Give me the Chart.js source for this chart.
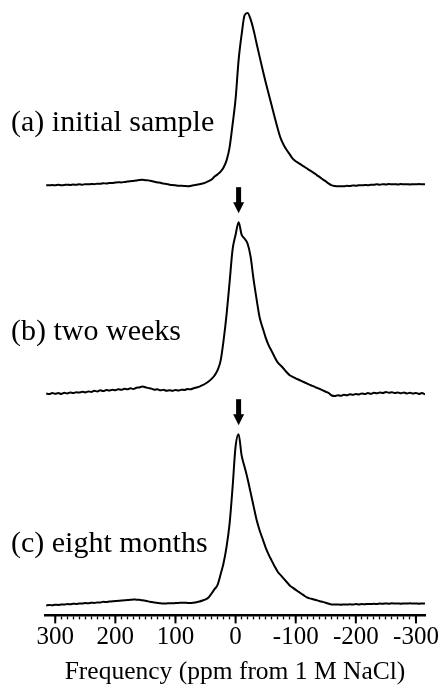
<!DOCTYPE html>
<html>
<head>
<meta charset="utf-8">
<script src="https://cdn.jsdelivr.net/npm/chart.js@4.4.1/dist/chart.umd.min.js"></script>
<style>
  html, body { margin: 0; padding: 0; background: #fff; }
  #wrap { position: relative; width: 438px; height: 690px; }
</style>
</head>
<body>
<div id="wrap"><canvas id="nmr"></canvas></div>
<script>
// chemical shift grid (ppm)
const ppm = [
  315, 310, 305, 300, 295, 290, 285, 280, 275, 270,
  265, 260, 255, 250, 245, 240, 235, 230, 225, 220,
  215, 210, 205, 200, 195, 190, 185, 180, 175, 170,
  165, 160, 155, 150, 145, 140, 135, 130, 125, 120,
  115, 110, 105, 100, 95, 90, 85, 80, 75, 70,
  65, 60, 55, 50, 45, 40, 35, 30, 25, 20,
  15, 10, 5, 0, -5, -10, -15, -20, -25, -30,
  -35, -40, -45, -50, -55, -60, -65, -70, -75, -80,
  -85, -90, -95, -100, -105, -110, -115, -120, -125, -130,
  -135, -140, -145, -150, -155, -160, -165, -170, -175, -180,
  -185, -190, -195, -200, -205, -210, -215, -220, -225, -230,
  -235, -240, -245, -250, -255, -260, -265, -270, -275, -280,
  -285, -290, -295, -300, -305, -310, -315
];

// normalised intensities (peak = 1)
const initialSample = [
  -0.006, -0.006, -0.004, -0.006, -0.003, -0.005, -0.004, -0.002, -0.004, -0.001,
  -0.003, 0.000, -0.002, 0.001, 0.000, 0.002, 0.001, 0.004, 0.003, 0.006,
  0.005, 0.008, 0.007, 0.010, 0.012, 0.011, 0.014, 0.016, 0.018, 0.020,
  0.022, 0.025, 0.026, 0.024, 0.023, 0.019, 0.015, 0.011, 0.009, 0.004,
  0.002, -0.002, -0.004, -0.006, -0.008, -0.009, -0.010, -0.011, -0.010, -0.006,
  -0.002, 0.000, 0.005, 0.010, 0.018, 0.028, 0.045, 0.058, 0.074, 0.098,
  0.140, 0.216, 0.350, 0.500, 0.725, 0.874, 0.988, 1.000, 0.963, 0.900,
  0.821, 0.744, 0.669, 0.596, 0.528, 0.460, 0.392, 0.326, 0.268, 0.230,
  0.200, 0.175, 0.150, 0.135, 0.124, 0.112, 0.101, 0.089, 0.078, 0.067,
  0.054, 0.042, 0.029, 0.017, 0.004, -0.006, -0.010, -0.012, -0.011, -0.012,
  -0.009, -0.010, -0.007, -0.008, -0.005, -0.006, -0.004, -0.005, -0.002, -0.003,
  0.000, -0.002, 0.001, -0.001, 0.002, 0.000, 0.001, -0.001, 0.002, 0.000,
  0.001, -0.001, 0.001, 0.000, 0.002, 0.000, 0.001
];

const twoWeeks = [
  0.000, -0.004, 0.003, -0.002, 0.002, -0.003, 0.004, 0.000, 0.006, 0.002,
  0.007, 0.005, 0.010, 0.006, 0.012, 0.009, 0.015, 0.012, 0.018, 0.014,
  0.020, 0.017, 0.022, 0.019, 0.025, 0.021, 0.027, 0.024, 0.030, 0.026,
  0.033, 0.035, 0.040, 0.036, 0.031, 0.028, 0.022, 0.024, 0.018, 0.021,
  0.016, 0.019, 0.015, 0.020, 0.017, 0.022, 0.020, 0.026, 0.024, 0.030,
  0.035, 0.040, 0.048, 0.058, 0.070, 0.085, 0.105, 0.136, 0.190, 0.310,
  0.462, 0.649, 0.841, 0.927, 1.000, 0.927, 0.903, 0.874, 0.797, 0.663,
  0.548, 0.443, 0.383, 0.326, 0.281, 0.247, 0.212, 0.181, 0.163, 0.144,
  0.124, 0.106, 0.097, 0.088, 0.080, 0.072, 0.064, 0.056, 0.048, 0.041,
  0.033, 0.026, 0.018, 0.010, 0.002, -0.012, -0.015, -0.010, -0.014, -0.008,
  -0.011, -0.005, -0.008, -0.003, -0.006, 0.000, -0.004, 0.002, -0.002, 0.004,
  0.001, 0.006, 0.003, 0.008, 0.004, 0.007, 0.002, 0.006, 0.001, 0.005,
  0.000, 0.004, -0.001, 0.003, -0.003, 0.002, -0.006
];

const eightMonths = [
  0.000, 0.003, 0.001, 0.004, 0.003, 0.006, 0.005, 0.008, 0.007, 0.010,
  0.009, 0.012, 0.011, 0.014, 0.013, 0.016, 0.015, 0.018, 0.018, 0.021,
  0.020, 0.023, 0.024, 0.026, 0.027, 0.029, 0.030, 0.032, 0.033, 0.035,
  0.034, 0.033, 0.030, 0.027, 0.024, 0.020, 0.017, 0.015, 0.013, 0.012,
  0.012, 0.013, 0.013, 0.014, 0.015, 0.016, 0.016, 0.015, 0.014, 0.016,
  0.019, 0.023, 0.029, 0.036, 0.047, 0.070, 0.095, 0.120, 0.181, 0.248,
  0.344, 0.478, 0.691, 0.930, 1.000, 0.876, 0.808, 0.739, 0.659, 0.578,
  0.499, 0.438, 0.388, 0.338, 0.297, 0.262, 0.228, 0.197, 0.177, 0.157,
  0.137, 0.117, 0.104, 0.091, 0.079, 0.067, 0.055, 0.045, 0.040, 0.035,
  0.030, 0.025, 0.021, 0.016, 0.010, 0.006, 0.005, 0.006, 0.004, 0.006,
  0.005, 0.007, 0.005, 0.008, 0.006, 0.008, 0.007, 0.009, 0.008, 0.010,
  0.008, 0.011, 0.010, 0.012, 0.010, 0.013, 0.011, 0.012, 0.010, 0.012,
  0.011, 0.013, 0.011, 0.012, 0.010, 0.012, 0.011
];

const traceLabels = ['(a) initial sample', '(b) two weeks', '(c) eight months'];
const traceValues = [initialSample, twoWeeks, eightMonths];
// vertical stacking of the three spectra (in peak-height units)
const traceOffsets = [2.459, 1.238, 0];

// arrows point at the peak maximum of (b) and (c)
const arrowPpm = [-5, -5];
const arrowTrace = [1, 2];

const tickLabelValues = [300, 200, 100, 0, -100, -200, -300];

const serif = '"Liberation Serif", "DejaVu Serif", serif';

const datasets = traceValues.map((vals, k) => ({
  label: traceLabels[k],
  data: ppm.map((p, i) => ({ x: p, y: vals[i] + traceOffsets[k] })),
  borderColor: '#000',
  borderWidth: 2,
  pointRadius: 0,
  fill: false,
  cubicInterpolationMode: 'monotone'
}));

// trace labels + arrows, drawn on the chart's own scales
const annotatePlugin = {
  id: 'annotate',
  afterDatasetsDraw(chart) {
    const ctx = chart.ctx;
    const xs = chart.scales.x, ys = chart.scales.y;
    ctx.save();
    ctx.fillStyle = '#000';
    ctx.font = '30px ' + serif;
    ctx.textBaseline = 'middle';
    ctx.textAlign = 'left';
    traceLabels.forEach((t, k) => {
      const base = ys.getPixelForValue(traceOffsets[k]);
      ctx.fillText(t, 11, base - 61);
    });
    arrowPpm.forEach((p, k) => {
      const px = xs.getPixelForValue(p);
      const tip = ys.getPixelForValue(traceOffsets[arrowTrace[k]] + 1) - 9;
      ctx.fillRect(px - 2.5, tip - 26, 5, 16);
      ctx.beginPath();
      ctx.moveTo(px - 5.5, tip - 11);
      ctx.lineTo(px + 5.5, tip - 11);
      ctx.lineTo(px, tip);
      ctx.closePath();
      ctx.fill();
    });
    ctx.restore();
  },
  afterDraw(chart) {
    // longer marks at the labelled (major) ticks
    const ctx = chart.ctx;
    const xs = chart.scales.x;
    ctx.save();
    ctx.strokeStyle = '#000';
    ctx.lineWidth = 2;
    tickLabelValues.forEach(v => {
      const px = xs.getPixelForValue(v);
      ctx.beginPath();
      ctx.moveTo(px, xs.top);
      ctx.lineTo(px, xs.top + 8);
      ctx.stroke();
    });
    ctx.restore();
  }
};

new Chart(document.getElementById('nmr'), {
  type: 'line',
  data: { datasets },
  options: {
    responsive: true,
    maintainAspectRatio: false,
    animation: false,
    layout: { padding: { left: 45, right: 13, top: 5, bottom: 2 } },
    plugins: { legend: { display: false }, tooltip: { enabled: false } },
    scales: {
      x: {
        type: 'linear',
        reverse: true,
        min: -315,
        max: 317,
        afterBuildTicks: s => { s.ticks = s.ticks.filter(t => t.value % 10 === 0); },
        // the "-300" label may hang over the plot edge, as in the figure
        afterFit: s => { s.paddingLeft = 0; s.paddingRight = 0; },
        ticks: {
          stepSize: 10,
          autoSkip: false,
          maxRotation: 0,
          color: '#000',
          padding: 3,
          font: { family: serif, size: 25 },
          callback: v => (tickLabelValues.includes(v) ? String(v) : '')
        },
        grid: { drawOnChartArea: false, tickLength: 4, tickWidth: 1.3, tickColor: '#000' },
        border: { color: '#000', width: 2.5 },
        title: {
          display: true,
          text: 'Frequency (ppm from 1 M NaCl)',
          color: '#000',
          font: { family: serif, size: 25.5 },
          padding: { top: 2, bottom: 0 }
        }
      },
      y: {
        display: false,
        min: -0.058,
        max: 3.506
      }
    }
  },
  plugins: [annotatePlugin]
});
</script>
</body>
</html>
